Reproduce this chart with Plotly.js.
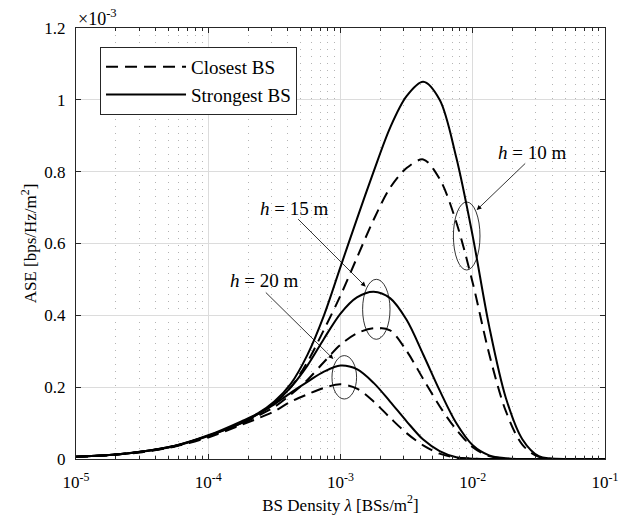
<!DOCTYPE html>
<html>
<head>
<meta charset="utf-8">
<script src="https://cdn.plot.ly/plotly-3.0.1.min.js"></script>
<style>html,body{margin:0;padding:0;background:#fff;}#chart{width:627px;height:519px;}</style>
</head>
<body>
<div id="chart"></div>
<script>
// BS density (BSs/m^2)
const density = [1e-5, 1.78e-5, 3.16e-5, 5.62e-5, 1e-4, 1.78e-4, 2.37e-4, 3.16e-4, 4.22e-4, 5.62e-4, 7.5e-4, 1e-3, 1.33e-3, 1.78e-3, 2.37e-3, 3.16e-3, 4.22e-3, 5.62e-3, 7.5e-3, 1e-2, 1.33e-2, 1.78e-2, 2.37e-2, 3.16e-2, 5.62e-2, 1e-1];
// ASE in units of 1e-3 bps/Hz/m^2
const strongest_h10 = [0.006, 0.011, 0.021, 0.037, 0.066, 0.105, 0.127, 0.16, 0.21, 0.29, 0.40, 0.535, 0.668, 0.80, 0.922, 1.01, 1.05, 1.0, 0.84, 0.62, 0.37, 0.17, 0.055, 0.008, 0, 0];
const closest_h10   = [0.006, 0.011, 0.021, 0.036, 0.064, 0.10, 0.125, 0.155, 0.20, 0.27, 0.36, 0.455, 0.56, 0.666, 0.755, 0.81, 0.834, 0.78, 0.66, 0.49, 0.293, 0.133, 0.04, 0.006, 0, 0];
const strongest_h15 = [0.006, 0.011, 0.021, 0.037, 0.065, 0.10, 0.125, 0.155, 0.20, 0.26, 0.335, 0.405, 0.45, 0.466, 0.448, 0.3875, 0.291, 0.191, 0.10, 0.038, 0.01, 0.002, 0, 0, 0, 0];
const closest_h15   = [0.006, 0.011, 0.02, 0.036, 0.063, 0.098, 0.12, 0.145, 0.18, 0.22, 0.27, 0.318, 0.35, 0.364, 0.358, 0.301, 0.223, 0.147, 0.082, 0.033, 0.008, 0.001, 0, 0, 0, 0];
const strongest_h20 = [0.006, 0.011, 0.02, 0.036, 0.064, 0.10, 0.125, 0.152, 0.185, 0.215, 0.243, 0.26, 0.25, 0.212, 0.16, 0.105, 0.054, 0.022, 0.005, 0.001, 0, 0, 0, 0, 0, 0];
const closest_h20   = [0.006, 0.011, 0.019, 0.035, 0.06, 0.095, 0.113, 0.133, 0.16, 0.18, 0.198, 0.208, 0.196, 0.16, 0.115, 0.072, 0.038, 0.015, 0.004, 0.001, 0, 0, 0, 0, 0, 0];

const xTickVals = [1e-5, 1e-4, 1e-3, 1e-2, 1e-1];
const xTickText = ['10<sup>-5</sup>', '10<sup>-4</sup>', '10<sup>-3</sup>', '10<sup>-2</sup>', '10<sup>-1</sup>'];
const yTickVals = [0, 0.2, 0.4, 0.6, 0.8, 1, 1.2];
const yTickText = ['0', '0.2', '0.4', '0.6', '0.8', '1', '1.2'];
const legendNames = ['Closest BS', 'Strongest BS'];

const minorX = [];
for (let e = -5; e < -1; e++) for (let m = 2; m <= 9; m++) minorX.push(m * Math.pow(10, e));

const FONT = 'Liberation Serif, DejaVu Serif, serif';
const lineW = 2;
function tr(y, dashed, name, show) {
  return {x: density, y: y, type: 'scatter', mode: 'lines', name: name, showlegend: show,
    line: {color: '#000', width: lineW, dash: dashed ? '12px,7px' : 'solid', shape: 'spline', smoothing: 0.9}};
}
const data = [
  tr(closest_h10, true, legendNames[0], true),
  tr(strongest_h10, false, legendNames[1], true),
  tr(closest_h15, true, legendNames[0], false),
  tr(strongest_h15, false, legendNames[1], false),
  tr(closest_h20, true, legendNames[0], false),
  tr(strongest_h20, false, legendNames[1], false)
];

function ell(x0, x1, y0, y1) {
  return {type: 'circle', xref: 'paper', yref: 'paper', x0: x0, x1: x1, y0: y0, y1: y1, line: {color: '#000', width: 0.8}};
}
function arrow(x, y, ax, ay) {
  return {xref: 'paper', yref: 'paper', x: x, y: y, ax: ax, ay: ay, axref: 'pixel', ayref: 'pixel', text: '', showarrow: true,
    arrowhead: 2, arrowsize: 1.2, arrowwidth: 0.8, arrowcolor: '#000'};
}
function label(x, y, t) {
  return {xref: 'paper', yref: 'paper', x: x, y: y, text: t, showarrow: false, xanchor: 'center', yanchor: 'middle',
    font: {family: FONT, size: 19, color: '#000'}};
}
const SP = '&nbsp;';

const layout = {
  width: 627, height: 519,
  margin: {l: 76, r: 22, t: 28, b: 60, pad: 0},
  paper_bgcolor: '#fff', plot_bgcolor: '#fff',
  font: {family: FONT, size: 17, color: '#000'},
  xaxis: {
    type: 'log', range: [-5, -1], tickvals: xTickVals, ticktext: xTickText,
    showline: true, linecolor: '#262626', linewidth: 1, mirror: 'ticks',
    ticks: 'inside', ticklen: 5, tickcolor: '#262626', ticklabelstandoff: 8,
    showgrid: true, gridcolor: '#dcdcdc', gridwidth: 1, zeroline: false,
    minor: {tickvals: minorX, ticks: 'inside', ticklen: 3, tickcolor: '#262626', showgrid: true, gridcolor: '#b4b4b4', griddash: '1px,6px', gridwidth: 1},
    tickfont: {family: FONT, size: 17, color: '#000'},
    title: {text: 'BS Density <i>λ</i> [BSs/m<sup>2</sup>]', font: {family: FONT, size: 17, color: '#000'}, standoff: 6}
  },
  yaxis: {
    range: [0, 1.2], tickvals: yTickVals, ticktext: yTickText,
    showline: true, linecolor: '#262626', linewidth: 1, mirror: 'ticks',
    ticks: 'inside', ticklen: 5, tickcolor: '#262626', ticklabelstandoff: 6,
    showgrid: true, gridcolor: '#dcdcdc', gridwidth: 1, zeroline: false,
    tickfont: {family: FONT, size: 17, color: '#000'},
    title: {text: 'ASE [bps/Hz/m<sup>2</sup>]', font: {family: FONT, size: 17, color: '#000'}, standoff: 3}
  },
  legend: {
    x: 0.0454, y: 0.956, xanchor: 'left', yanchor: 'top',
    bgcolor: '#fff', bordercolor: '#262626', borderwidth: 1,
    font: {family: FONT, size: 19, color: '#000'},
    itemwidth: 80, tracegroupgap: 0
  },
  shapes: [
    ell(0.7134, 0.7637, 0.4385, 0.5963),
    ell(0.5418, 0.5936, 0.2777, 0.4169),
    ell(0.4839, 0.5304, 0.1392, 0.2399)
  ],
  annotations: [
    {xref: 'paper', yref: 'paper', x: 0, y: 1, xanchor: 'left', yanchor: 'bottom', text: '×10<sup>-3</sup>', showarrow: false,
      font: {family: FONT, size: 18, color: '#000'}, xshift: 0, yshift: -3},
    label(0.862, 0.710, '<i>h</i>' + SP + '=' + SP + '10' + SP + 'm'),
    label(0.412, 0.582, '<i>h</i>' + SP + '=' + SP + '15' + SP + 'm'),
    label(0.355, 0.415, '<i>h</i>' + SP + '=' + SP + '20' + SP + 'm'),
    arrow(0.7575, 0.5777, 50, -48),
    arrow(0.5476, 0.3998, -69, -69),
    arrow(0.4864, 0.2320, -69, -68)
  ]
};

Plotly.newPlot('chart', data, layout, {displayModeBar: false, staticPlot: true});
</script>
</body>
</html>
